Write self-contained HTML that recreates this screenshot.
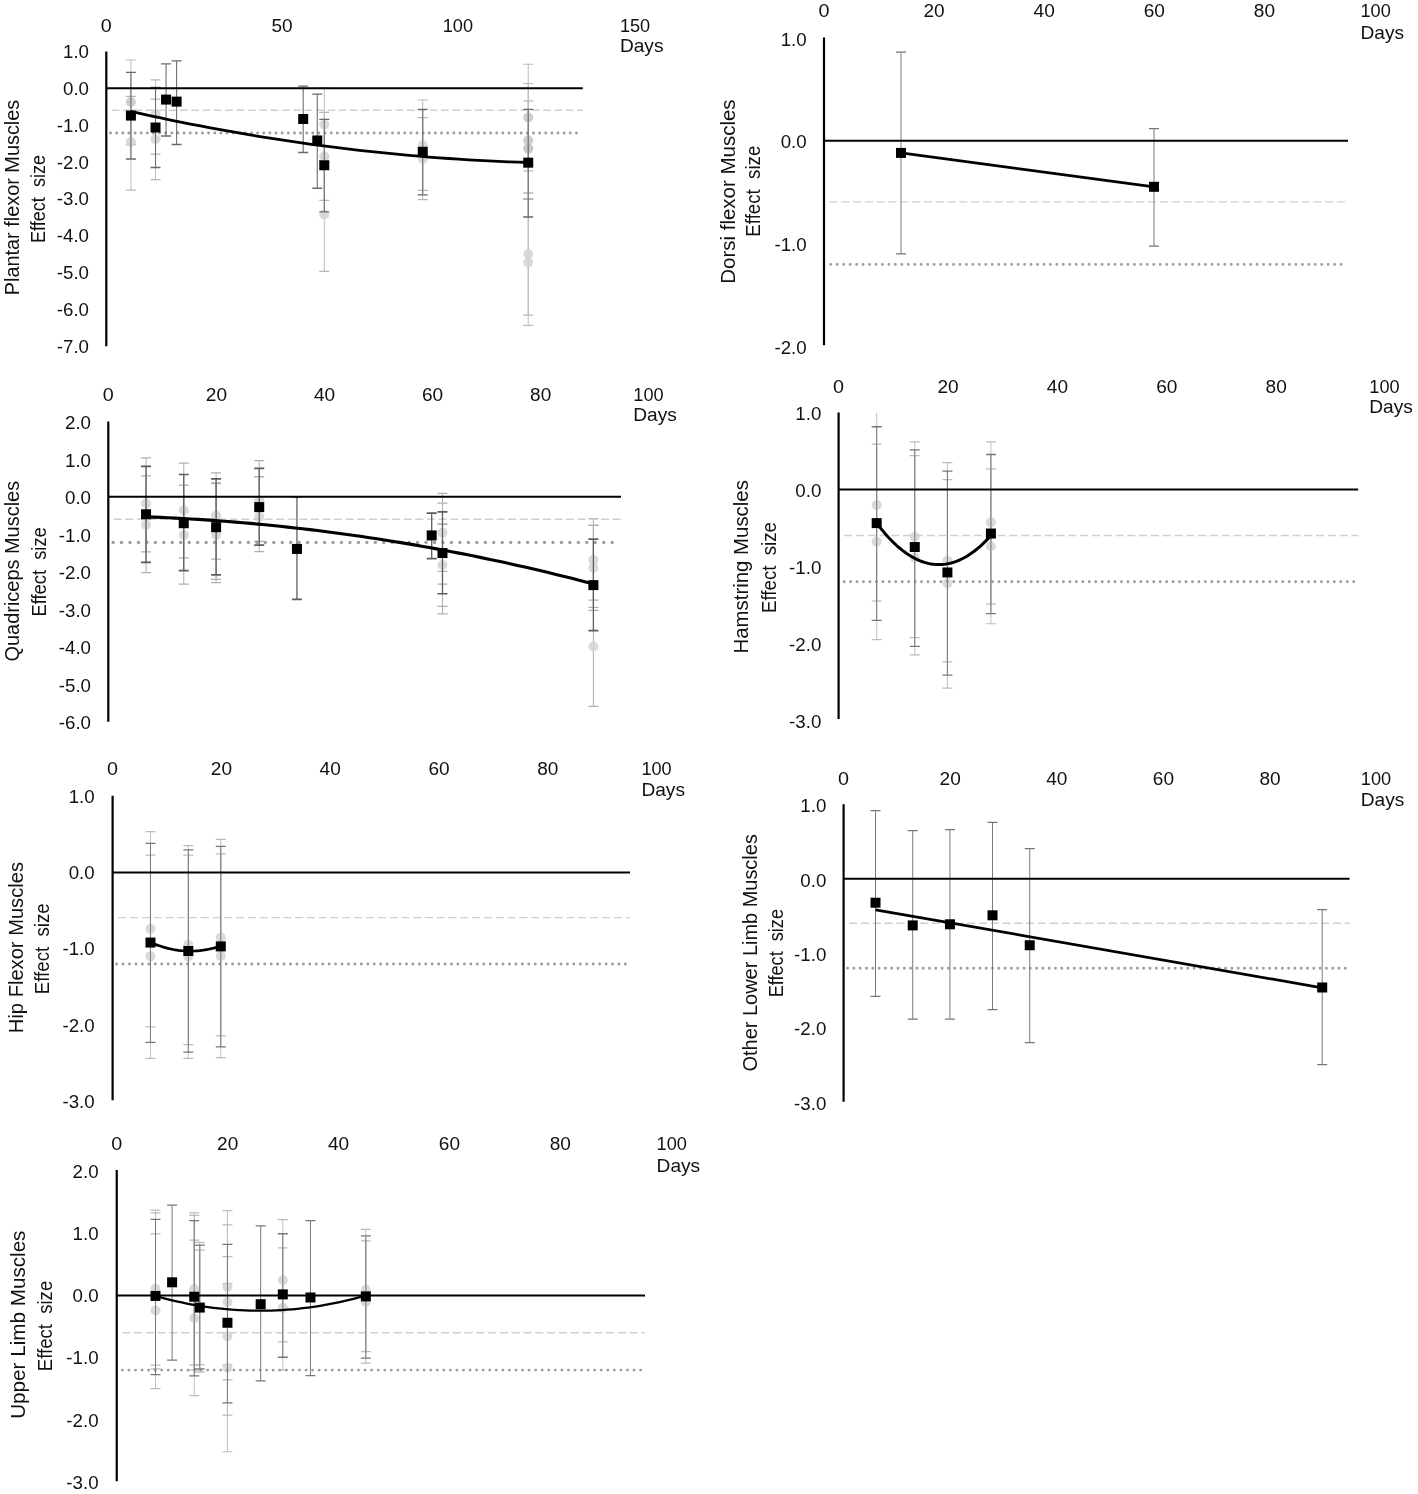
<!DOCTYPE html>
<html><head><meta charset="utf-8"><title>Effect size over days by muscle group</title>
<style>
html,body{margin:0;padding:0;background:#fff;}
body{width:1418px;height:1494px;overflow:hidden;}
svg{display:block;will-change:transform;transform:translateZ(0);filter:blur(0.45px);}
svg text{font-family:"Liberation Sans",sans-serif;fill:#111;}
</style></head><body>
<svg width="1418" height="1494" viewBox="0 0 1418 1494">
<rect width="1418" height="1494" fill="#fff"/>
<path d="M130.91 59.99V144.54" stroke="#b8b8b8" stroke-width="0.94" fill="none"/>
<path d="M125.91 59.99h10M125.91 144.54h10" stroke="#b8b8b8" stroke-width="1.21" fill="none"/>
<path d="M130.91 96.44V190.05" stroke="#b8b8b8" stroke-width="0.94" fill="none"/>
<path d="M125.91 96.44h10M125.91 190.05h10" stroke="#b8b8b8" stroke-width="1.21" fill="none"/>
<path d="M155.52 99.03V179.69" stroke="#b8b8b8" stroke-width="0.94" fill="none"/>
<path d="M150.52 99.03h10M150.52 179.69h10" stroke="#b8b8b8" stroke-width="1.21" fill="none"/>
<path d="M155.52 79.79V154.16" stroke="#b8b8b8" stroke-width="0.94" fill="none"/>
<path d="M150.52 79.79h10M150.52 154.16h10" stroke="#b8b8b8" stroke-width="1.21" fill="none"/>
<path d="M324.29 87.93V161.19" stroke="#b8b8b8" stroke-width="0.94" fill="none"/>
<path d="M319.29 87.93h10M319.29 161.19h10" stroke="#b8b8b8" stroke-width="1.21" fill="none"/>
<path d="M324.29 112.35V200.41" stroke="#b8b8b8" stroke-width="0.94" fill="none"/>
<path d="M319.29 112.35h10M319.29 200.41h10" stroke="#b8b8b8" stroke-width="1.21" fill="none"/>
<path d="M324.29 157.49V271.45" stroke="#b8b8b8" stroke-width="0.94" fill="none"/>
<path d="M319.29 157.49h10M319.29 271.45h10" stroke="#b8b8b8" stroke-width="1.21" fill="none"/>
<path d="M422.74 99.99V190.42" stroke="#b8b8b8" stroke-width="0.94" fill="none"/>
<path d="M417.74 99.99h10M417.74 190.42h10" stroke="#b8b8b8" stroke-width="1.21" fill="none"/>
<path d="M422.74 117.53V199.67" stroke="#b8b8b8" stroke-width="0.94" fill="none"/>
<path d="M417.74 117.53h10M417.74 199.67h10" stroke="#b8b8b8" stroke-width="1.21" fill="none"/>
<path d="M528.22 64.25V170.81" stroke="#b8b8b8" stroke-width="0.94" fill="none"/>
<path d="M523.22 64.25h10M523.22 170.81h10" stroke="#b8b8b8" stroke-width="1.21" fill="none"/>
<path d="M528.22 83.49V198.56" stroke="#b8b8b8" stroke-width="0.94" fill="none"/>
<path d="M523.22 83.49h10M523.22 198.56h10" stroke="#b8b8b8" stroke-width="1.21" fill="none"/>
<path d="M528.22 100.88V193.01" stroke="#b8b8b8" stroke-width="0.94" fill="none"/>
<path d="M523.22 100.88h10M523.22 193.01h10" stroke="#b8b8b8" stroke-width="1.21" fill="none"/>
<path d="M528.22 193.01V315.11" stroke="#b8b8b8" stroke-width="0.94" fill="none"/>
<path d="M523.22 193.01h10M523.22 315.11h10" stroke="#b8b8b8" stroke-width="1.21" fill="none"/>
<path d="M528.22 199.3V325.47" stroke="#b8b8b8" stroke-width="0.94" fill="none"/>
<path d="M523.22 199.3h10M523.22 325.47h10" stroke="#b8b8b8" stroke-width="1.21" fill="none"/>
<circle cx="130.91" cy="101.99" r="5" fill="#c8c8c8" fill-opacity="0.85"/>
<circle cx="130.91" cy="141.95" r="5" fill="#d4d4d4" fill-opacity="0.85"/>
<circle cx="155.52" cy="139.18" r="5" fill="#d4d4d4" fill-opacity="0.85"/>
<circle cx="155.52" cy="114.2" r="5" fill="#d4d4d4" fill-opacity="0.85"/>
<circle cx="324.29" cy="124.56" r="5" fill="#d4d4d4" fill-opacity="0.85"/>
<circle cx="324.29" cy="156.38" r="5" fill="#d4d4d4" fill-opacity="0.85"/>
<circle cx="324.29" cy="214.47" r="5" fill="#d4d4d4" fill-opacity="0.85"/>
<circle cx="422.74" cy="145.28" r="5" fill="#d4d4d4" fill-opacity="0.85"/>
<circle cx="422.74" cy="158.97" r="5" fill="#d4d4d4" fill-opacity="0.85"/>
<circle cx="528.22" cy="117.53" r="5" fill="#c6c6c6" fill-opacity="0.85"/>
<circle cx="528.22" cy="140.47" r="5" fill="#c6c6c6" fill-opacity="0.85"/>
<circle cx="528.22" cy="148.61" r="5" fill="#bdbdbd" fill-opacity="0.85"/>
<circle cx="528.22" cy="254.06" r="5" fill="#d4d4d4" fill-opacity="0.85"/>
<circle cx="528.22" cy="262.57" r="5" fill="#d4d4d4" fill-opacity="0.85"/>
<path d="M111.8 110.3H582.8" stroke="#d0d0d0" stroke-width="1.4" stroke-dasharray="7.65 3.7" fill="none"/>
<path d="M576.4 133H110.3" stroke="#9c9c9c" stroke-width="2.9" stroke-linecap="round" stroke-dasharray="0.01 6.12" fill="none"/>
<path d="M130.91 72.39V158.97" stroke="#6a6a6a" stroke-width="1.06" fill="none"/>
<path d="M125.91 72.39h10M125.91 158.97h10" stroke="#6a6a6a" stroke-width="1.38" fill="none"/>
<path d="M155.52 87.56V167.48" stroke="#6a6a6a" stroke-width="1.06" fill="none"/>
<path d="M150.52 87.56h10M150.52 167.48h10" stroke="#6a6a6a" stroke-width="1.38" fill="none"/>
<path d="M166.07 63.88V136.03" stroke="#6a6a6a" stroke-width="1.06" fill="none"/>
<path d="M161.07 63.88h10M161.07 136.03h10" stroke="#6a6a6a" stroke-width="1.38" fill="none"/>
<path d="M176.62 60.92V144.54" stroke="#6a6a6a" stroke-width="1.06" fill="none"/>
<path d="M171.62 60.92h10M171.62 144.54h10" stroke="#6a6a6a" stroke-width="1.38" fill="none"/>
<path d="M303.2 86.08V152.5" stroke="#6a6a6a" stroke-width="1.06" fill="none"/>
<path d="M298.2 86.08h10M298.2 152.5h10" stroke="#6a6a6a" stroke-width="1.38" fill="none"/>
<path d="M317.26 94.11V188.2" stroke="#6a6a6a" stroke-width="1.06" fill="none"/>
<path d="M312.26 94.11h10M312.26 188.2h10" stroke="#6a6a6a" stroke-width="1.38" fill="none"/>
<path d="M324.29 119.38V211.88" stroke="#6a6a6a" stroke-width="1.06" fill="none"/>
<path d="M319.29 119.38h10M319.29 211.88h10" stroke="#6a6a6a" stroke-width="1.38" fill="none"/>
<path d="M422.74 109.39V194.86" stroke="#6a6a6a" stroke-width="1.06" fill="none"/>
<path d="M417.74 109.39h10M417.74 194.86h10" stroke="#6a6a6a" stroke-width="1.38" fill="none"/>
<path d="M528.22 109.39V217.06" stroke="#6a6a6a" stroke-width="1.06" fill="none"/>
<path d="M523.22 109.39h10M523.22 217.06h10" stroke="#6a6a6a" stroke-width="1.38" fill="none"/>
<path d="M106.3 51.4V346.3" stroke="#000" stroke-width="2.2" fill="none"/>
<path d="M106.3 88.2H582.8" stroke="#000" stroke-width="2" fill="none"/>
<polyline points="130.91,111.4 140.84,113.63 150.78,115.81 160.71,117.94 170.64,120.02 180.58,122.05 190.51,124.03 200.44,125.97 210.37,127.85 220.31,129.69 230.24,131.48 240.17,133.22 250.1,134.91 260.04,136.55 269.97,138.15 279.9,139.69 289.84,141.19 299.77,142.64 309.7,144.04 319.63,145.39 329.57,146.69 339.5,147.94 349.43,149.15 359.36,150.3 369.3,151.41 379.23,152.47 389.16,153.48 399.09,154.44 409.03,155.35 418.96,156.21 428.89,157.03 438.83,157.8 448.76,158.51 458.69,159.18 468.62,159.8 478.56,160.37 488.49,160.9 498.42,161.37 508.35,161.8 518.29,162.17 528.22,162.5" stroke="#000" stroke-width="2.8" fill="none" stroke-linejoin="round"/>
<rect x="125.91" y="110.57" width="10" height="10" fill="#000"/>
<rect x="150.52" y="122.52" width="10" height="10" fill="#000"/>
<rect x="161.07" y="94.58" width="10" height="10" fill="#000"/>
<rect x="171.62" y="96.62" width="10" height="10" fill="#000"/>
<rect x="298.2" y="114.01" width="10" height="10" fill="#000"/>
<rect x="312.26" y="135.47" width="10" height="10" fill="#000"/>
<rect x="319.29" y="160.26" width="10" height="10" fill="#000"/>
<rect x="417.74" y="146.79" width="10" height="10" fill="#000"/>
<rect x="523.22" y="157.67" width="10" height="10" fill="#000"/>
<text x="89" y="57.8" text-anchor="end" font-size="17.5" textLength="26.0" lengthAdjust="spacingAndGlyphs">1.0</text>
<text x="89" y="94.7" text-anchor="end" font-size="17.5" textLength="26.0" lengthAdjust="spacingAndGlyphs">0.0</text>
<text x="89" y="131.6" text-anchor="end" font-size="17.5" textLength="32.2" lengthAdjust="spacingAndGlyphs">-1.0</text>
<text x="89" y="168.5" text-anchor="end" font-size="17.5" textLength="32.2" lengthAdjust="spacingAndGlyphs">-2.0</text>
<text x="89" y="205.4" text-anchor="end" font-size="17.5" textLength="32.2" lengthAdjust="spacingAndGlyphs">-3.0</text>
<text x="89" y="242.3" text-anchor="end" font-size="17.5" textLength="32.2" lengthAdjust="spacingAndGlyphs">-4.0</text>
<text x="89" y="279.2" text-anchor="end" font-size="17.5" textLength="32.2" lengthAdjust="spacingAndGlyphs">-5.0</text>
<text x="89" y="316.1" text-anchor="end" font-size="17.5" textLength="32.2" lengthAdjust="spacingAndGlyphs">-6.0</text>
<text x="89" y="353" text-anchor="end" font-size="17.5" textLength="32.2" lengthAdjust="spacingAndGlyphs">-7.0</text>
<text x="106.3" y="32" text-anchor="middle" font-size="17.5" textLength="11" lengthAdjust="spacingAndGlyphs">0</text>
<text x="282.1" y="32" text-anchor="middle" font-size="17.5" textLength="21.2" lengthAdjust="spacingAndGlyphs">50</text>
<text x="457.9" y="32" text-anchor="middle" font-size="17.5" textLength="30.3" lengthAdjust="spacingAndGlyphs">100</text>
<text x="619.9" y="32" font-size="17.5" textLength="30.3" lengthAdjust="spacingAndGlyphs">150</text>
<text x="619.9" y="51.8" font-size="18.5" textLength="43.6" lengthAdjust="spacingAndGlyphs">Days</text>
<text transform="translate(19.1 197.5) rotate(-90)" text-anchor="middle" font-size="19.5" textLength="195.5" lengthAdjust="spacingAndGlyphs">Plantar flexor Muscles</text>
<text transform="translate(44.9 199) rotate(-90)" text-anchor="middle" font-size="19.5" textLength="87.9" lengthAdjust="spacingAndGlyphs" xml:space="preserve">Effect  size</text>
<path d="M829.5 201.9H1348" stroke="#d0d0d0" stroke-width="1.4" stroke-dasharray="8.1 3.7" fill="none"/>
<path d="M1341.1 264.4H828" stroke="#9c9c9c" stroke-width="2.9" stroke-linecap="round" stroke-dasharray="0.01 6.45" fill="none"/>
<path d="M901 52.07V253.77" stroke="#777777" stroke-width="0.98" fill="none"/>
<path d="M896 52.07h10M896 253.77h10" stroke="#777777" stroke-width="1.26" fill="none"/>
<path d="M1154 128.58V246.07" stroke="#777777" stroke-width="0.98" fill="none"/>
<path d="M1149 128.58h10M1149 246.07h10" stroke="#777777" stroke-width="1.26" fill="none"/>
<path d="M824 37.4V345.3" stroke="#000" stroke-width="2.2" fill="none"/>
<path d="M824 140.8H1348" stroke="#000" stroke-width="2" fill="none"/>
<polyline points="901,152.92 1154,186.81" stroke="#000" stroke-width="2.8" fill="none" stroke-linejoin="round"/>
<rect x="896" y="147.92" width="10" height="10" fill="#000"/>
<rect x="1149" y="181.81" width="10" height="10" fill="#000"/>
<text x="806.7" y="45.5" text-anchor="end" font-size="17.5" textLength="26.0" lengthAdjust="spacingAndGlyphs">1.0</text>
<text x="806.7" y="148.3" text-anchor="end" font-size="17.5" textLength="26.0" lengthAdjust="spacingAndGlyphs">0.0</text>
<text x="806.7" y="251.1" text-anchor="end" font-size="17.5" textLength="32.2" lengthAdjust="spacingAndGlyphs">-1.0</text>
<text x="806.7" y="353.9" text-anchor="end" font-size="17.5" textLength="32.2" lengthAdjust="spacingAndGlyphs">-2.0</text>
<text x="824" y="17.2" text-anchor="middle" font-size="17.5" textLength="11" lengthAdjust="spacingAndGlyphs">0</text>
<text x="934.1" y="17.2" text-anchor="middle" font-size="17.5" textLength="21.2" lengthAdjust="spacingAndGlyphs">20</text>
<text x="1044.2" y="17.2" text-anchor="middle" font-size="17.5" textLength="21.2" lengthAdjust="spacingAndGlyphs">40</text>
<text x="1154.3" y="17.2" text-anchor="middle" font-size="17.5" textLength="21.2" lengthAdjust="spacingAndGlyphs">60</text>
<text x="1264.4" y="17.2" text-anchor="middle" font-size="17.5" textLength="21.2" lengthAdjust="spacingAndGlyphs">80</text>
<text x="1360.5" y="17.2" font-size="17.5" textLength="30.3" lengthAdjust="spacingAndGlyphs">100</text>
<text x="1360.5" y="39" font-size="18.5" textLength="43.6" lengthAdjust="spacingAndGlyphs">Days</text>
<text transform="translate(735.05 191.6) rotate(-90)" text-anchor="middle" font-size="19.5" textLength="184.4" lengthAdjust="spacingAndGlyphs">Dorsi flexor Muscles</text>
<text transform="translate(760.4 191.2) rotate(-90)" text-anchor="middle" font-size="19.5" textLength="90.9" lengthAdjust="spacingAndGlyphs" xml:space="preserve">Effect  size</text>
<path d="M146.03 457.91V551.92" stroke="#b0b0b0" stroke-width="1.02" fill="none"/>
<path d="M141.03 457.91h10M141.03 551.92h10" stroke="#b0b0b0" stroke-width="1.32" fill="none"/>
<path d="M146.03 475.8V572.55" stroke="#b0b0b0" stroke-width="1.02" fill="none"/>
<path d="M141.03 475.8h10M141.03 572.55h10" stroke="#b0b0b0" stroke-width="1.32" fill="none"/>
<path d="M183.76 463.12V557.92" stroke="#b0b0b0" stroke-width="1.02" fill="none"/>
<path d="M178.76 463.12h10M178.76 557.92h10" stroke="#b0b0b0" stroke-width="1.32" fill="none"/>
<path d="M183.76 485.18V584.17" stroke="#b0b0b0" stroke-width="1.02" fill="none"/>
<path d="M178.76 485.18h10M178.76 584.17h10" stroke="#b0b0b0" stroke-width="1.32" fill="none"/>
<path d="M216.1 472.8V559.05" stroke="#b0b0b0" stroke-width="1.02" fill="none"/>
<path d="M211.1 472.8h10M211.1 559.05h10" stroke="#b0b0b0" stroke-width="1.32" fill="none"/>
<path d="M216.1 482.93V582.67" stroke="#b0b0b0" stroke-width="1.02" fill="none"/>
<path d="M211.1 482.93h10M211.1 582.67h10" stroke="#b0b0b0" stroke-width="1.32" fill="none"/>
<path d="M259.22 460.61V541.42" stroke="#b0b0b0" stroke-width="1.02" fill="none"/>
<path d="M254.22 460.61h10M254.22 541.42h10" stroke="#b0b0b0" stroke-width="1.32" fill="none"/>
<path d="M259.22 476.74V551.55" stroke="#b0b0b0" stroke-width="1.02" fill="none"/>
<path d="M254.22 476.74h10M254.22 551.55h10" stroke="#b0b0b0" stroke-width="1.32" fill="none"/>
<path d="M442.48 493.43V571.42" stroke="#b0b0b0" stroke-width="1.02" fill="none"/>
<path d="M437.48 493.43h10M437.48 571.42h10" stroke="#b0b0b0" stroke-width="1.32" fill="none"/>
<path d="M442.48 524.17V606.3" stroke="#b0b0b0" stroke-width="1.02" fill="none"/>
<path d="M437.48 524.17h10M437.48 606.3h10" stroke="#b0b0b0" stroke-width="1.32" fill="none"/>
<path d="M593.4 518.55V600.11" stroke="#b0b0b0" stroke-width="1.02" fill="none"/>
<path d="M588.4 518.55h10M588.4 600.11h10" stroke="#b0b0b0" stroke-width="1.32" fill="none"/>
<path d="M593.4 525.3V607.42" stroke="#b0b0b0" stroke-width="1.02" fill="none"/>
<path d="M588.4 525.3h10M588.4 607.42h10" stroke="#b0b0b0" stroke-width="1.32" fill="none"/>
<path d="M593.4 586.42V706.42" stroke="#b0b0b0" stroke-width="1.02" fill="none"/>
<path d="M588.4 586.42h10M588.4 706.42h10" stroke="#b0b0b0" stroke-width="1.32" fill="none"/>
<path d="M216.1 483.68V579.3" stroke="#b0b0b0" stroke-width="1.02" fill="none"/>
<path d="M211.1 483.68h10M211.1 579.3h10" stroke="#b0b0b0" stroke-width="1.32" fill="none"/>
<path d="M442.48 503.18V584.17" stroke="#b0b0b0" stroke-width="1.02" fill="none"/>
<path d="M437.48 503.18h10M437.48 584.17h10" stroke="#b0b0b0" stroke-width="1.32" fill="none"/>
<path d="M442.48 524.17V613.8" stroke="#b0b0b0" stroke-width="1.02" fill="none"/>
<path d="M437.48 524.17h10M437.48 613.8h10" stroke="#b0b0b0" stroke-width="1.32" fill="none"/>
<path d="M593.4 525.3V610.42" stroke="#b0b0b0" stroke-width="1.02" fill="none"/>
<path d="M588.4 525.3h10M588.4 610.42h10" stroke="#b0b0b0" stroke-width="1.32" fill="none"/>
<circle cx="146.03" cy="503.55" r="5" fill="#d4d4d4" fill-opacity="0.85"/>
<circle cx="146.03" cy="524.74" r="5" fill="#d4d4d4" fill-opacity="0.85"/>
<circle cx="183.76" cy="510.3" r="5" fill="#d4d4d4" fill-opacity="0.85"/>
<circle cx="183.76" cy="535.05" r="5" fill="#d4d4d4" fill-opacity="0.85"/>
<circle cx="216.1" cy="515.55" r="5" fill="#d4d4d4" fill-opacity="0.85"/>
<circle cx="216.1" cy="535.05" r="5" fill="#d4d4d4" fill-opacity="0.85"/>
<circle cx="259.22" cy="500.55" r="5" fill="#d4d4d4" fill-opacity="0.85"/>
<circle cx="259.22" cy="516.67" r="5" fill="#d4d4d4" fill-opacity="0.85"/>
<circle cx="442.48" cy="532.8" r="5" fill="#d4d4d4" fill-opacity="0.85"/>
<circle cx="442.48" cy="565.05" r="5" fill="#d4d4d4" fill-opacity="0.85"/>
<circle cx="593.4" cy="559.8" r="5" fill="#d4d4d4" fill-opacity="0.85"/>
<circle cx="593.4" cy="567.67" r="5" fill="#d4d4d4" fill-opacity="0.85"/>
<circle cx="593.4" cy="646.42" r="5" fill="#d4d4d4" fill-opacity="0.85"/>
<path d="M113.8 519.2H621" stroke="#d0d0d0" stroke-width="1.4" stroke-dasharray="7.9 3.7" fill="none"/>
<path d="M612.2 542.4H112.3" stroke="#9c9c9c" stroke-width="3.4" stroke-linecap="round" stroke-dasharray="0.01 8.45" fill="none"/>
<path d="M146.03 466.43V562.42" stroke="#5c5c5c" stroke-width="1.27" fill="none"/>
<path d="M141.03 466.43h10M141.03 562.42h10" stroke="#5c5c5c" stroke-width="1.65" fill="none"/>
<path d="M183.76 474.49V570.67" stroke="#5c5c5c" stroke-width="1.27" fill="none"/>
<path d="M178.76 474.49h10M178.76 570.67h10" stroke="#5c5c5c" stroke-width="1.65" fill="none"/>
<path d="M216.1 478.8V574.8" stroke="#5c5c5c" stroke-width="1.27" fill="none"/>
<path d="M211.1 478.8h10M211.1 574.8h10" stroke="#5c5c5c" stroke-width="1.65" fill="none"/>
<path d="M259.22 468.3V545.17" stroke="#5c5c5c" stroke-width="1.27" fill="none"/>
<path d="M254.22 468.3h10M254.22 545.17h10" stroke="#5c5c5c" stroke-width="1.65" fill="none"/>
<path d="M296.95 496.8V599.36" stroke="#5c5c5c" stroke-width="1.27" fill="none"/>
<path d="M291.95 496.8h10M291.95 599.36h10" stroke="#5c5c5c" stroke-width="1.65" fill="none"/>
<path d="M431.7 513.11V558.67" stroke="#5c5c5c" stroke-width="1.27" fill="none"/>
<path d="M426.7 513.11h10M426.7 558.67h10" stroke="#5c5c5c" stroke-width="1.65" fill="none"/>
<path d="M442.48 511.8V593.74" stroke="#5c5c5c" stroke-width="1.27" fill="none"/>
<path d="M437.48 511.8h10M437.48 593.74h10" stroke="#5c5c5c" stroke-width="1.65" fill="none"/>
<path d="M593.4 539.17V630.67" stroke="#5c5c5c" stroke-width="1.27" fill="none"/>
<path d="M588.4 539.17h10M588.4 630.67h10" stroke="#5c5c5c" stroke-width="1.65" fill="none"/>
<path d="M108.3 421.4V721.8" stroke="#000" stroke-width="2.2" fill="none"/>
<path d="M108.3 496.75H621" stroke="#000" stroke-width="2" fill="none"/>
<polyline points="146,516.82 153.45,517.1 160.9,517.42 168.36,517.77 175.81,518.14 183.26,518.54 190.71,518.97 198.16,519.42 205.61,519.91 213.06,520.42 220.52,520.96 227.97,521.53 235.42,522.13 242.87,522.76 250.32,523.41 257.77,524.09 265.23,524.8 272.68,525.54 280.13,526.31 287.58,527.1 295.03,527.92 302.49,528.77 309.94,529.65 317.39,530.56 324.84,531.49 332.29,532.46 339.74,533.45 347.2,534.46 354.65,535.51 362.1,536.59 369.55,537.69 377,538.82 384.45,539.98 391.91,541.17 399.36,542.38 406.81,543.63 414.26,544.9 421.71,546.2 429.16,547.53 436.62,548.88 444.07,550.27 451.52,551.68 458.97,553.12 466.42,554.59 473.87,556.09 481.32,557.61 488.78,559.16 496.23,560.74 503.68,562.35 511.13,563.99 518.58,565.66 526.04,567.35 533.49,569.07 540.94,570.82 548.39,572.6 555.84,574.4 563.29,576.24 570.75,578.1 578.2,579.99 585.65,581.91 593.1,583.85" stroke="#000" stroke-width="3.1" fill="none" stroke-linejoin="round"/>
<rect x="141.03" y="509.27" width="10" height="10" fill="#000"/>
<rect x="178.76" y="518.24" width="10" height="10" fill="#000"/>
<rect x="211.1" y="522.18" width="10" height="10" fill="#000"/>
<rect x="254.22" y="502.11" width="10" height="10" fill="#000"/>
<rect x="291.95" y="543.92" width="10" height="10" fill="#000"/>
<rect x="426.7" y="530.42" width="10" height="10" fill="#000"/>
<rect x="437.48" y="548.05" width="10" height="10" fill="#000"/>
<rect x="588.4" y="580.11" width="10" height="10" fill="#000"/>
<text x="91" y="429.05" text-anchor="end" font-size="17.5" textLength="26.0" lengthAdjust="spacingAndGlyphs">2.0</text>
<text x="91" y="466.55" text-anchor="end" font-size="17.5" textLength="26.0" lengthAdjust="spacingAndGlyphs">1.0</text>
<text x="91" y="504.05" text-anchor="end" font-size="17.5" textLength="26.0" lengthAdjust="spacingAndGlyphs">0.0</text>
<text x="91" y="541.55" text-anchor="end" font-size="17.5" textLength="32.2" lengthAdjust="spacingAndGlyphs">-1.0</text>
<text x="91" y="579.05" text-anchor="end" font-size="17.5" textLength="32.2" lengthAdjust="spacingAndGlyphs">-2.0</text>
<text x="91" y="616.55" text-anchor="end" font-size="17.5" textLength="32.2" lengthAdjust="spacingAndGlyphs">-3.0</text>
<text x="91" y="654.05" text-anchor="end" font-size="17.5" textLength="32.2" lengthAdjust="spacingAndGlyphs">-4.0</text>
<text x="91" y="691.55" text-anchor="end" font-size="17.5" textLength="32.2" lengthAdjust="spacingAndGlyphs">-5.0</text>
<text x="91" y="729.05" text-anchor="end" font-size="17.5" textLength="32.2" lengthAdjust="spacingAndGlyphs">-6.0</text>
<text x="108.3" y="401" text-anchor="middle" font-size="17.5" textLength="11" lengthAdjust="spacingAndGlyphs">0</text>
<text x="216.4" y="401" text-anchor="middle" font-size="17.5" textLength="21.2" lengthAdjust="spacingAndGlyphs">20</text>
<text x="324.5" y="401" text-anchor="middle" font-size="17.5" textLength="21.2" lengthAdjust="spacingAndGlyphs">40</text>
<text x="432.6" y="401" text-anchor="middle" font-size="17.5" textLength="21.2" lengthAdjust="spacingAndGlyphs">60</text>
<text x="540.7" y="401" text-anchor="middle" font-size="17.5" textLength="21.2" lengthAdjust="spacingAndGlyphs">80</text>
<text x="633.3" y="401" font-size="17.5" textLength="30.3" lengthAdjust="spacingAndGlyphs">100</text>
<text x="633.3" y="420.8" font-size="18.5" textLength="43.6" lengthAdjust="spacingAndGlyphs">Days</text>
<text transform="translate(19.4 571.2) rotate(-90)" text-anchor="middle" font-size="19.5" textLength="180.7" lengthAdjust="spacingAndGlyphs">Quadriceps Muscles</text>
<text transform="translate(46.4 571.9) rotate(-90)" text-anchor="middle" font-size="19.5" textLength="89.4" lengthAdjust="spacingAndGlyphs" xml:space="preserve">Effect  size</text>
<path d="M876.68 412.87V601" stroke="#bcbcbc" stroke-width="0.94" fill="none"/>
<path d="M871.68 601h10" stroke="#bcbcbc" stroke-width="1.21" fill="none"/>
<path d="M876.68 444.1V639.54" stroke="#bcbcbc" stroke-width="0.94" fill="none"/>
<path d="M871.68 444.1h10M871.68 639.54h10" stroke="#bcbcbc" stroke-width="1.21" fill="none"/>
<path d="M914.76 441.78V637.62" stroke="#bcbcbc" stroke-width="0.94" fill="none"/>
<path d="M909.76 441.78h10M909.76 637.62h10" stroke="#bcbcbc" stroke-width="1.21" fill="none"/>
<path d="M914.76 455.66V654.96" stroke="#bcbcbc" stroke-width="0.94" fill="none"/>
<path d="M909.76 455.66h10M909.76 654.96h10" stroke="#bcbcbc" stroke-width="1.21" fill="none"/>
<path d="M947.4 462.6V661.9" stroke="#bcbcbc" stroke-width="0.94" fill="none"/>
<path d="M942.4 462.6h10M942.4 661.9h10" stroke="#bcbcbc" stroke-width="1.21" fill="none"/>
<path d="M947.4 479.56V688.12" stroke="#bcbcbc" stroke-width="0.94" fill="none"/>
<path d="M942.4 479.56h10M942.4 688.12h10" stroke="#bcbcbc" stroke-width="1.21" fill="none"/>
<path d="M990.92 441.78V604.08" stroke="#bcbcbc" stroke-width="0.94" fill="none"/>
<path d="M985.92 441.78h10M985.92 604.08h10" stroke="#bcbcbc" stroke-width="1.21" fill="none"/>
<path d="M990.92 468.77V623.74" stroke="#bcbcbc" stroke-width="0.94" fill="none"/>
<path d="M985.92 468.77h10M985.92 623.74h10" stroke="#bcbcbc" stroke-width="1.21" fill="none"/>
<circle cx="876.68" cy="505.01" r="5" fill="#d4d4d4" fill-opacity="0.85"/>
<circle cx="876.68" cy="541.63" r="5" fill="#d4d4d4" fill-opacity="0.85"/>
<circle cx="914.76" cy="537" r="5" fill="#d4d4d4" fill-opacity="0.85"/>
<circle cx="914.76" cy="557.82" r="5" fill="#d4d4d4" fill-opacity="0.85"/>
<circle cx="947.4" cy="560.9" r="5" fill="#d4d4d4" fill-opacity="0.85"/>
<circle cx="947.4" cy="583.26" r="5" fill="#d4d4d4" fill-opacity="0.85"/>
<circle cx="990.92" cy="522.35" r="5" fill="#d4d4d4" fill-opacity="0.85"/>
<circle cx="990.92" cy="546.25" r="5" fill="#d4d4d4" fill-opacity="0.85"/>
<path d="M844.1 535.5H1358.2" stroke="#d0d0d0" stroke-width="1.4" stroke-dasharray="8.1 3.7" fill="none"/>
<path d="M1353.7 581.8H842.6" stroke="#9c9c9c" stroke-width="2.9" stroke-linecap="round" stroke-dasharray="0.01 6.44" fill="none"/>
<path d="M876.68 426.75V620.27" stroke="#777777" stroke-width="0.98" fill="none"/>
<path d="M871.68 426.75h10M871.68 620.27h10" stroke="#777777" stroke-width="1.26" fill="none"/>
<path d="M914.76 449.88V646.48" stroke="#777777" stroke-width="0.98" fill="none"/>
<path d="M909.76 449.88h10M909.76 646.48h10" stroke="#777777" stroke-width="1.26" fill="none"/>
<path d="M947.4 471.08V675.01" stroke="#777777" stroke-width="0.98" fill="none"/>
<path d="M942.4 471.08h10M942.4 675.01h10" stroke="#777777" stroke-width="1.26" fill="none"/>
<path d="M990.92 454.5V613.72" stroke="#777777" stroke-width="0.98" fill="none"/>
<path d="M985.92 454.5h10M985.92 613.72h10" stroke="#777777" stroke-width="1.26" fill="none"/>
<path d="M838.6 412.6V719" stroke="#000" stroke-width="2.2" fill="none"/>
<path d="M838.6 489.4H1358.2" stroke="#000" stroke-width="2" fill="none"/>
<polyline points="876.6,523 879.47,526.75 882.34,530.32 885.21,533.71 888.08,536.92 890.95,539.96 893.82,542.83 896.69,545.51 899.56,548.02 902.43,550.35 905.3,552.51 908.17,554.49 911.04,556.29 913.91,557.92 916.78,559.36 919.65,560.64 922.52,561.73 925.39,562.65 928.26,563.39 931.13,563.96 934,564.35 936.87,564.56 939.74,564.59 942.61,564.45 945.48,564.13 948.35,563.64 951.22,562.96 954.09,562.12 956.96,561.09 959.83,559.89 962.7,558.51 965.57,556.95 968.44,555.22 971.31,553.31 974.18,551.23 977.05,548.96 979.92,546.52 982.79,543.91 985.66,541.12 988.53,538.15 991.4,535" stroke="#000" stroke-width="3.0" fill="none" stroke-linejoin="round"/>
<rect x="871.68" y="518.12" width="10" height="10" fill="#000"/>
<rect x="909.76" y="542.02" width="10" height="10" fill="#000"/>
<rect x="942.4" y="567.47" width="10" height="10" fill="#000"/>
<rect x="985.92" y="528.53" width="10" height="10" fill="#000"/>
<text x="821.3" y="420" text-anchor="end" font-size="17.5" textLength="26.0" lengthAdjust="spacingAndGlyphs">1.0</text>
<text x="821.3" y="497" text-anchor="end" font-size="17.5" textLength="26.0" lengthAdjust="spacingAndGlyphs">0.0</text>
<text x="821.3" y="574" text-anchor="end" font-size="17.5" textLength="32.2" lengthAdjust="spacingAndGlyphs">-1.0</text>
<text x="821.3" y="651" text-anchor="end" font-size="17.5" textLength="32.2" lengthAdjust="spacingAndGlyphs">-2.0</text>
<text x="821.3" y="728" text-anchor="end" font-size="17.5" textLength="32.2" lengthAdjust="spacingAndGlyphs">-3.0</text>
<text x="838.6" y="393" text-anchor="middle" font-size="17.5" textLength="11" lengthAdjust="spacingAndGlyphs">0</text>
<text x="948" y="393" text-anchor="middle" font-size="17.5" textLength="21.2" lengthAdjust="spacingAndGlyphs">20</text>
<text x="1057.4" y="393" text-anchor="middle" font-size="17.5" textLength="21.2" lengthAdjust="spacingAndGlyphs">40</text>
<text x="1166.8" y="393" text-anchor="middle" font-size="17.5" textLength="21.2" lengthAdjust="spacingAndGlyphs">60</text>
<text x="1276.2" y="393" text-anchor="middle" font-size="17.5" textLength="21.2" lengthAdjust="spacingAndGlyphs">80</text>
<text x="1369.3" y="393" font-size="17.5" textLength="30.3" lengthAdjust="spacingAndGlyphs">100</text>
<text x="1369.3" y="413.3" font-size="18.5" textLength="43.6" lengthAdjust="spacingAndGlyphs">Days</text>
<text transform="translate(748.3 566.8) rotate(-90)" text-anchor="middle" font-size="19.5" textLength="173.3" lengthAdjust="spacingAndGlyphs">Hamstring Muscles</text>
<text transform="translate(775.5 567.5) rotate(-90)" text-anchor="middle" font-size="19.5" textLength="90.9" lengthAdjust="spacingAndGlyphs" xml:space="preserve">Effect  size</text>
<path d="M150.47 831.58V1026.93" stroke="#bcbcbc" stroke-width="0.94" fill="none"/>
<path d="M145.47 831.58h10M145.47 1026.93h10" stroke="#bcbcbc" stroke-width="1.21" fill="none"/>
<path d="M150.47 855.13V1058.38" stroke="#bcbcbc" stroke-width="0.94" fill="none"/>
<path d="M145.47 855.13h10M145.47 1058.38h10" stroke="#bcbcbc" stroke-width="1.21" fill="none"/>
<path d="M188.34 845.54V1044.58" stroke="#bcbcbc" stroke-width="0.94" fill="none"/>
<path d="M183.34 845.54h10M183.34 1044.58h10" stroke="#bcbcbc" stroke-width="1.21" fill="none"/>
<path d="M188.34 855.13V1058.38" stroke="#bcbcbc" stroke-width="0.94" fill="none"/>
<path d="M183.34 855.13h10M183.34 1058.38h10" stroke="#bcbcbc" stroke-width="1.21" fill="none"/>
<path d="M220.8 839.4V1035.91" stroke="#bcbcbc" stroke-width="0.94" fill="none"/>
<path d="M215.8 839.4h10M215.8 1035.91h10" stroke="#bcbcbc" stroke-width="1.21" fill="none"/>
<path d="M220.8 853.9V1057.61" stroke="#bcbcbc" stroke-width="0.94" fill="none"/>
<path d="M215.8 853.9h10M215.8 1057.61h10" stroke="#bcbcbc" stroke-width="1.21" fill="none"/>
<circle cx="150.47" cy="928.76" r="5" fill="#d4d4d4" fill-opacity="0.85"/>
<circle cx="150.47" cy="956.37" r="5" fill="#d4d4d4" fill-opacity="0.85"/>
<circle cx="188.34" cy="944.87" r="5" fill="#d4d4d4" fill-opacity="0.85"/>
<circle cx="188.34" cy="956.37" r="5" fill="#d4d4d4" fill-opacity="0.85"/>
<circle cx="220.8" cy="937.58" r="5" fill="#d4d4d4" fill-opacity="0.85"/>
<circle cx="220.8" cy="955.91" r="5" fill="#d4d4d4" fill-opacity="0.85"/>
<path d="M118.1 917.6H630" stroke="#d0d0d0" stroke-width="1.4" stroke-dasharray="8.1 3.7" fill="none"/>
<path d="M625.4 964H116.6" stroke="#9c9c9c" stroke-width="2.9" stroke-linecap="round" stroke-dasharray="0.01 6.43" fill="none"/>
<path d="M150.47 843.31V1042.27" stroke="#777777" stroke-width="0.98" fill="none"/>
<path d="M145.47 843.31h10M145.47 1042.27h10" stroke="#777777" stroke-width="1.26" fill="none"/>
<path d="M188.34 849.99V1052.24" stroke="#777777" stroke-width="0.98" fill="none"/>
<path d="M183.34 849.99h10M183.34 1052.24h10" stroke="#777777" stroke-width="1.26" fill="none"/>
<path d="M220.8 846.38V1046.88" stroke="#777777" stroke-width="0.98" fill="none"/>
<path d="M215.8 846.38h10M215.8 1046.88h10" stroke="#777777" stroke-width="1.26" fill="none"/>
<path d="M112.6 795.7V1100.3" stroke="#000" stroke-width="2.2" fill="none"/>
<path d="M112.6 872.4H630" stroke="#000" stroke-width="2" fill="none"/>
<polyline points="150.3,942.3 152.06,943.06 153.83,943.78 155.59,944.47 157.35,945.13 159.11,945.75 160.88,946.33 162.64,946.89 164.4,947.4 166.16,947.89 167.93,948.34 169.69,948.76 171.45,949.14 173.21,949.49 174.98,949.8 176.74,950.08 178.5,950.33 180.26,950.54 182.03,950.72 183.79,950.86 185.55,950.97 187.31,951.04 189.08,951.09 190.84,951.09 192.6,951.07 194.36,951.01 196.12,950.91 197.89,950.78 199.65,950.62 201.41,950.42 203.18,950.19 204.94,949.92 206.7,949.62 208.46,949.29 210.23,948.92 211.99,948.52 213.75,948.09 215.51,947.61 217.28,947.11 219.04,946.57 220.8,946" stroke="#000" stroke-width="2.7" fill="none" stroke-linejoin="round"/>
<rect x="145.47" y="937.56" width="10" height="10" fill="#000"/>
<rect x="183.34" y="946" width="10" height="10" fill="#000"/>
<rect x="215.8" y="941.4" width="10" height="10" fill="#000"/>
<text x="94.7" y="803.2" text-anchor="end" font-size="17.5" textLength="26.0" lengthAdjust="spacingAndGlyphs">1.0</text>
<text x="94.7" y="879.3" text-anchor="end" font-size="17.5" textLength="26.0" lengthAdjust="spacingAndGlyphs">0.0</text>
<text x="94.7" y="955.4" text-anchor="end" font-size="17.5" textLength="32.2" lengthAdjust="spacingAndGlyphs">-1.0</text>
<text x="94.7" y="1031.5" text-anchor="end" font-size="17.5" textLength="32.2" lengthAdjust="spacingAndGlyphs">-2.0</text>
<text x="94.7" y="1107.6" text-anchor="end" font-size="17.5" textLength="32.2" lengthAdjust="spacingAndGlyphs">-3.0</text>
<text x="112.6" y="775" text-anchor="middle" font-size="17.5" textLength="11" lengthAdjust="spacingAndGlyphs">0</text>
<text x="221.4" y="775" text-anchor="middle" font-size="17.5" textLength="21.2" lengthAdjust="spacingAndGlyphs">20</text>
<text x="330.2" y="775" text-anchor="middle" font-size="17.5" textLength="21.2" lengthAdjust="spacingAndGlyphs">40</text>
<text x="439" y="775" text-anchor="middle" font-size="17.5" textLength="21.2" lengthAdjust="spacingAndGlyphs">60</text>
<text x="547.8" y="775" text-anchor="middle" font-size="17.5" textLength="21.2" lengthAdjust="spacingAndGlyphs">80</text>
<text x="641.4" y="775" font-size="17.5" textLength="30.3" lengthAdjust="spacingAndGlyphs">100</text>
<text x="641.4" y="796.2" font-size="18.5" textLength="43.6" lengthAdjust="spacingAndGlyphs">Days</text>
<text transform="translate(23.4 947.6) rotate(-90)" text-anchor="middle" font-size="19.5" textLength="171.1" lengthAdjust="spacingAndGlyphs">Hip Flexor Muscles</text>
<text transform="translate(49.4 948.8) rotate(-90)" text-anchor="middle" font-size="19.5" textLength="90.7" lengthAdjust="spacingAndGlyphs" xml:space="preserve">Effect  size</text>
<path d="M849.1 923.3H1349.5" stroke="#d0d0d0" stroke-width="1.4" stroke-dasharray="8.1 3.7" fill="none"/>
<path d="M1345.3 968.2H847.6" stroke="#9c9c9c" stroke-width="2.9" stroke-linecap="round" stroke-dasharray="0.01 6.29" fill="none"/>
<path d="M875.51 810.61V996.38" stroke="#777777" stroke-width="0.98" fill="none"/>
<path d="M870.51 810.61h10M870.51 996.38h10" stroke="#777777" stroke-width="1.26" fill="none"/>
<path d="M912.73 830.54V1019.13" stroke="#777777" stroke-width="0.98" fill="none"/>
<path d="M907.73 830.54h10M907.73 1019.13h10" stroke="#777777" stroke-width="1.26" fill="none"/>
<path d="M949.96 829.65V1019.13" stroke="#777777" stroke-width="0.98" fill="none"/>
<path d="M944.96 829.65h10M944.96 1019.13h10" stroke="#777777" stroke-width="1.26" fill="none"/>
<path d="M992.5 822.32V1009.72" stroke="#777777" stroke-width="0.98" fill="none"/>
<path d="M987.5 822.32h10M987.5 1009.72h10" stroke="#777777" stroke-width="1.26" fill="none"/>
<path d="M1029.73 848.55V1042.69" stroke="#777777" stroke-width="0.98" fill="none"/>
<path d="M1024.73 848.55h10M1024.73 1042.69h10" stroke="#777777" stroke-width="1.26" fill="none"/>
<path d="M1322.22 909.68V1064.55" stroke="#777777" stroke-width="0.98" fill="none"/>
<path d="M1317.22 909.68h10M1317.22 1064.55h10" stroke="#777777" stroke-width="1.26" fill="none"/>
<path d="M843.6 804.3V1101.8" stroke="#000" stroke-width="2.2" fill="none"/>
<path d="M843.6 878.7H1349.5" stroke="#000" stroke-width="2" fill="none"/>
<polyline points="875.6,909.8 1322.3,987.8" stroke="#000" stroke-width="2.7" fill="none" stroke-linejoin="round"/>
<rect x="870.51" y="897.72" width="10" height="10" fill="#000"/>
<rect x="907.73" y="920.39" width="10" height="10" fill="#000"/>
<rect x="944.96" y="919.28" width="10" height="10" fill="#000"/>
<rect x="987.5" y="910.31" width="10" height="10" fill="#000"/>
<rect x="1024.73" y="940.25" width="10" height="10" fill="#000"/>
<rect x="1317.22" y="982.49" width="10" height="10" fill="#000"/>
<text x="826.3" y="812.1" text-anchor="end" font-size="17.5" textLength="26.0" lengthAdjust="spacingAndGlyphs">1.0</text>
<text x="826.3" y="886.5" text-anchor="end" font-size="17.5" textLength="26.0" lengthAdjust="spacingAndGlyphs">0.0</text>
<text x="826.3" y="960.9" text-anchor="end" font-size="17.5" textLength="32.2" lengthAdjust="spacingAndGlyphs">-1.0</text>
<text x="826.3" y="1035.3" text-anchor="end" font-size="17.5" textLength="32.2" lengthAdjust="spacingAndGlyphs">-2.0</text>
<text x="826.3" y="1109.7" text-anchor="end" font-size="17.5" textLength="32.2" lengthAdjust="spacingAndGlyphs">-3.0</text>
<text x="843.6" y="785.4" text-anchor="middle" font-size="17.5" textLength="11" lengthAdjust="spacingAndGlyphs">0</text>
<text x="950.2" y="785.4" text-anchor="middle" font-size="17.5" textLength="21.2" lengthAdjust="spacingAndGlyphs">20</text>
<text x="1056.8" y="785.4" text-anchor="middle" font-size="17.5" textLength="21.2" lengthAdjust="spacingAndGlyphs">40</text>
<text x="1163.4" y="785.4" text-anchor="middle" font-size="17.5" textLength="21.2" lengthAdjust="spacingAndGlyphs">60</text>
<text x="1270" y="785.4" text-anchor="middle" font-size="17.5" textLength="21.2" lengthAdjust="spacingAndGlyphs">80</text>
<text x="1360.8" y="785.4" font-size="17.5" textLength="30.3" lengthAdjust="spacingAndGlyphs">100</text>
<text x="1360.8" y="805.7" font-size="18.5" textLength="43.6" lengthAdjust="spacingAndGlyphs">Days</text>
<text transform="translate(756.6 952.8) rotate(-90)" text-anchor="middle" font-size="19.5" textLength="237.3" lengthAdjust="spacingAndGlyphs">Other Lower Limb Muscles</text>
<text transform="translate(782.8 953.2) rotate(-90)" text-anchor="middle" font-size="19.5" textLength="88.3" lengthAdjust="spacingAndGlyphs" xml:space="preserve">Effect  size</text>
<path d="M155.5 1210.22V1365.22" stroke="#bcbcbc" stroke-width="0.94" fill="none"/>
<path d="M150.5 1210.22h10M150.5 1365.22h10" stroke="#bcbcbc" stroke-width="1.21" fill="none"/>
<path d="M155.5 1233.87V1388.56" stroke="#bcbcbc" stroke-width="0.94" fill="none"/>
<path d="M150.5 1233.87h10M150.5 1388.56h10" stroke="#bcbcbc" stroke-width="1.21" fill="none"/>
<path d="M194.24 1212.96V1365.22" stroke="#bcbcbc" stroke-width="0.94" fill="none"/>
<path d="M189.24 1212.96h10M189.24 1365.22h10" stroke="#bcbcbc" stroke-width="1.21" fill="none"/>
<path d="M194.24 1240.1V1395.72" stroke="#bcbcbc" stroke-width="0.94" fill="none"/>
<path d="M189.24 1240.1h10M189.24 1395.72h10" stroke="#bcbcbc" stroke-width="1.21" fill="none"/>
<path d="M199.78 1242.28V1364.6" stroke="#bcbcbc" stroke-width="0.94" fill="none"/>
<path d="M194.78 1242.28h10M194.78 1364.6h10" stroke="#bcbcbc" stroke-width="1.21" fill="none"/>
<path d="M199.78 1250.06V1372.07" stroke="#bcbcbc" stroke-width="0.94" fill="none"/>
<path d="M194.78 1250.06h10M194.78 1372.07h10" stroke="#bcbcbc" stroke-width="1.21" fill="none"/>
<path d="M227.45 1210.65V1364.6" stroke="#bcbcbc" stroke-width="0.94" fill="none"/>
<path d="M222.45 1210.65h10M222.45 1364.6h10" stroke="#bcbcbc" stroke-width="1.21" fill="none"/>
<path d="M227.45 1224.78V1379.85" stroke="#bcbcbc" stroke-width="0.94" fill="none"/>
<path d="M222.45 1224.78h10M222.45 1379.85h10" stroke="#bcbcbc" stroke-width="1.21" fill="none"/>
<path d="M227.45 1256.53V1415.02" stroke="#bcbcbc" stroke-width="0.94" fill="none"/>
<path d="M222.45 1256.53h10M222.45 1415.02h10" stroke="#bcbcbc" stroke-width="1.21" fill="none"/>
<path d="M227.45 1283.67V1451.75" stroke="#bcbcbc" stroke-width="0.94" fill="none"/>
<path d="M222.45 1283.67h10M222.45 1451.75h10" stroke="#bcbcbc" stroke-width="1.21" fill="none"/>
<path d="M282.8 1219.62V1341.81" stroke="#bcbcbc" stroke-width="0.94" fill="none"/>
<path d="M277.8 1219.62h10M277.8 1341.81h10" stroke="#bcbcbc" stroke-width="1.21" fill="none"/>
<path d="M282.8 1247.82V1370.2" stroke="#bcbcbc" stroke-width="0.94" fill="none"/>
<path d="M277.8 1247.82h10M277.8 1370.2h10" stroke="#bcbcbc" stroke-width="1.21" fill="none"/>
<path d="M365.83 1229.27V1351.65" stroke="#bcbcbc" stroke-width="0.94" fill="none"/>
<path d="M360.83 1229.27h10M360.83 1351.65h10" stroke="#bcbcbc" stroke-width="1.21" fill="none"/>
<path d="M365.83 1240.91V1363.04" stroke="#bcbcbc" stroke-width="0.94" fill="none"/>
<path d="M360.83 1240.91h10M360.83 1363.04h10" stroke="#bcbcbc" stroke-width="1.21" fill="none"/>
<path d="M155.5 1212.96V1368.95" stroke="#bcbcbc" stroke-width="0.94" fill="none"/>
<path d="M150.5 1212.96h10M150.5 1368.95h10" stroke="#bcbcbc" stroke-width="1.21" fill="none"/>
<path d="M194.24 1215.38V1370.2" stroke="#bcbcbc" stroke-width="0.94" fill="none"/>
<path d="M189.24 1215.38h10M189.24 1370.2h10" stroke="#bcbcbc" stroke-width="1.21" fill="none"/>
<circle cx="155.5" cy="1288.65" r="5" fill="#d4d4d4" fill-opacity="0.85"/>
<circle cx="155.5" cy="1310.44" r="5" fill="#d4d4d4" fill-opacity="0.85"/>
<circle cx="194.24" cy="1288.96" r="5" fill="#d4d4d4" fill-opacity="0.85"/>
<circle cx="194.24" cy="1318.28" r="5" fill="#d4d4d4" fill-opacity="0.85"/>
<circle cx="227.45" cy="1286.97" r="5" fill="#d4d4d4" fill-opacity="0.85"/>
<circle cx="227.45" cy="1301.97" r="5" fill="#d4d4d4" fill-opacity="0.85"/>
<circle cx="227.45" cy="1336.21" r="5" fill="#d4d4d4" fill-opacity="0.85"/>
<circle cx="227.45" cy="1367.96" r="5" fill="#d4d4d4" fill-opacity="0.85"/>
<circle cx="282.8" cy="1280.31" r="5" fill="#d4d4d4" fill-opacity="0.85"/>
<circle cx="282.8" cy="1307.95" r="5" fill="#d4d4d4" fill-opacity="0.85"/>
<circle cx="365.83" cy="1289.71" r="5" fill="#d4d4d4" fill-opacity="0.85"/>
<circle cx="365.83" cy="1301.97" r="5" fill="#d4d4d4" fill-opacity="0.85"/>
<path d="M122.25 1332.8H645" stroke="#d0d0d0" stroke-width="1.4" stroke-dasharray="8.1 3.7" fill="none"/>
<path d="M640.6 1370.1H120.75" stroke="#9c9c9c" stroke-width="2.9" stroke-linecap="round" stroke-dasharray="0.01 6.55" fill="none"/>
<path d="M155.5 1219.43V1374.56" stroke="#777777" stroke-width="0.98" fill="none"/>
<path d="M150.5 1219.43h10M150.5 1374.56h10" stroke="#777777" stroke-width="1.26" fill="none"/>
<path d="M172.1 1205.24V1360.24" stroke="#777777" stroke-width="0.98" fill="none"/>
<path d="M167.1 1205.24h10M167.1 1360.24h10" stroke="#777777" stroke-width="1.26" fill="none"/>
<path d="M194.24 1220.55V1375.8" stroke="#777777" stroke-width="0.98" fill="none"/>
<path d="M189.24 1220.55h10M189.24 1375.8h10" stroke="#777777" stroke-width="1.26" fill="none"/>
<path d="M199.78 1245.08V1368.95" stroke="#777777" stroke-width="0.98" fill="none"/>
<path d="M194.78 1245.08h10M194.78 1368.95h10" stroke="#777777" stroke-width="1.26" fill="none"/>
<path d="M227.45 1244.27V1402.88" stroke="#777777" stroke-width="0.98" fill="none"/>
<path d="M222.45 1244.27h10M222.45 1402.88h10" stroke="#777777" stroke-width="1.26" fill="none"/>
<path d="M260.66 1225.9V1380.97" stroke="#777777" stroke-width="0.98" fill="none"/>
<path d="M255.66 1225.9h10M255.66 1380.97h10" stroke="#777777" stroke-width="1.26" fill="none"/>
<path d="M282.8 1233.75V1357.25" stroke="#777777" stroke-width="0.98" fill="none"/>
<path d="M277.8 1233.75h10M277.8 1357.25h10" stroke="#777777" stroke-width="1.26" fill="none"/>
<path d="M310.48 1220.55V1375.55" stroke="#777777" stroke-width="0.98" fill="none"/>
<path d="M305.48 1220.55h10M305.48 1375.55h10" stroke="#777777" stroke-width="1.26" fill="none"/>
<path d="M365.83 1235.99V1358.12" stroke="#777777" stroke-width="0.98" fill="none"/>
<path d="M360.83 1235.99h10M360.83 1358.12h10" stroke="#777777" stroke-width="1.26" fill="none"/>
<path d="M116.75 1170.1V1481.2" stroke="#000" stroke-width="2.2" fill="none"/>
<path d="M116.75 1295.4H645" stroke="#000" stroke-width="2" fill="none"/>
<polyline points="155.4,1296 160.66,1297.45 165.93,1298.82 171.19,1300.11 176.46,1301.33 181.72,1302.48 186.99,1303.55 192.25,1304.55 197.52,1305.47 202.78,1306.32 208.05,1307.09 213.31,1307.79 218.58,1308.41 223.84,1308.96 229.11,1309.43 234.38,1309.83 239.64,1310.15 244.91,1310.4 250.17,1310.58 255.44,1310.68 260.7,1310.7 265.96,1310.65 271.23,1310.53 276.5,1310.33 281.76,1310.05 287.02,1309.7 292.29,1309.28 297.56,1308.78 302.82,1308.21 308.09,1307.56 313.35,1306.84 318.62,1306.04 323.88,1305.17 329.14,1304.22 334.41,1303.2 339.68,1302.1 344.94,1300.93 350.21,1299.69 355.47,1298.37 360.74,1296.97 366,1295.5" stroke="#000" stroke-width="2.3" fill="none" stroke-linejoin="round"/>
<rect x="150.5" y="1290.94" width="10" height="10" fill="#000"/>
<rect x="167.1" y="1277.3" width="10" height="10" fill="#000"/>
<rect x="189.24" y="1291.74" width="10" height="10" fill="#000"/>
<rect x="194.78" y="1302.58" width="10" height="10" fill="#000"/>
<rect x="222.45" y="1317.77" width="10" height="10" fill="#000"/>
<rect x="255.66" y="1299.21" width="10" height="10" fill="#000"/>
<rect x="277.8" y="1289.38" width="10" height="10" fill="#000"/>
<rect x="305.48" y="1292.49" width="10" height="10" fill="#000"/>
<rect x="360.83" y="1291.37" width="10" height="10" fill="#000"/>
<text x="98.55" y="1177.7" text-anchor="end" font-size="17.5" textLength="26.0" lengthAdjust="spacingAndGlyphs">2.0</text>
<text x="98.55" y="1239.9" text-anchor="end" font-size="17.5" textLength="26.0" lengthAdjust="spacingAndGlyphs">1.0</text>
<text x="98.55" y="1302.1" text-anchor="end" font-size="17.5" textLength="26.0" lengthAdjust="spacingAndGlyphs">0.0</text>
<text x="98.55" y="1364.3" text-anchor="end" font-size="17.5" textLength="32.2" lengthAdjust="spacingAndGlyphs">-1.0</text>
<text x="98.55" y="1426.5" text-anchor="end" font-size="17.5" textLength="32.2" lengthAdjust="spacingAndGlyphs">-2.0</text>
<text x="98.55" y="1488.7" text-anchor="end" font-size="17.5" textLength="32.2" lengthAdjust="spacingAndGlyphs">-3.0</text>
<text x="116.75" y="1149.5" text-anchor="middle" font-size="17.5" textLength="11" lengthAdjust="spacingAndGlyphs">0</text>
<text x="227.65" y="1149.5" text-anchor="middle" font-size="17.5" textLength="21.2" lengthAdjust="spacingAndGlyphs">20</text>
<text x="338.55" y="1149.5" text-anchor="middle" font-size="17.5" textLength="21.2" lengthAdjust="spacingAndGlyphs">40</text>
<text x="449.45" y="1149.5" text-anchor="middle" font-size="17.5" textLength="21.2" lengthAdjust="spacingAndGlyphs">60</text>
<text x="560.35" y="1149.5" text-anchor="middle" font-size="17.5" textLength="21.2" lengthAdjust="spacingAndGlyphs">80</text>
<text x="656.6" y="1149.5" font-size="17.5" textLength="30.3" lengthAdjust="spacingAndGlyphs">100</text>
<text x="656.6" y="1171.6" font-size="18.5" textLength="43.6" lengthAdjust="spacingAndGlyphs">Days</text>
<text transform="translate(25.1 1324.7) rotate(-90)" text-anchor="middle" font-size="19.5" textLength="188.3" lengthAdjust="spacingAndGlyphs">Upper Limb Muscles</text>
<text transform="translate(51.9 1326) rotate(-90)" text-anchor="middle" font-size="19.5" textLength="90.4" lengthAdjust="spacingAndGlyphs" xml:space="preserve">Effect  size</text>
</svg>
</body></html>
